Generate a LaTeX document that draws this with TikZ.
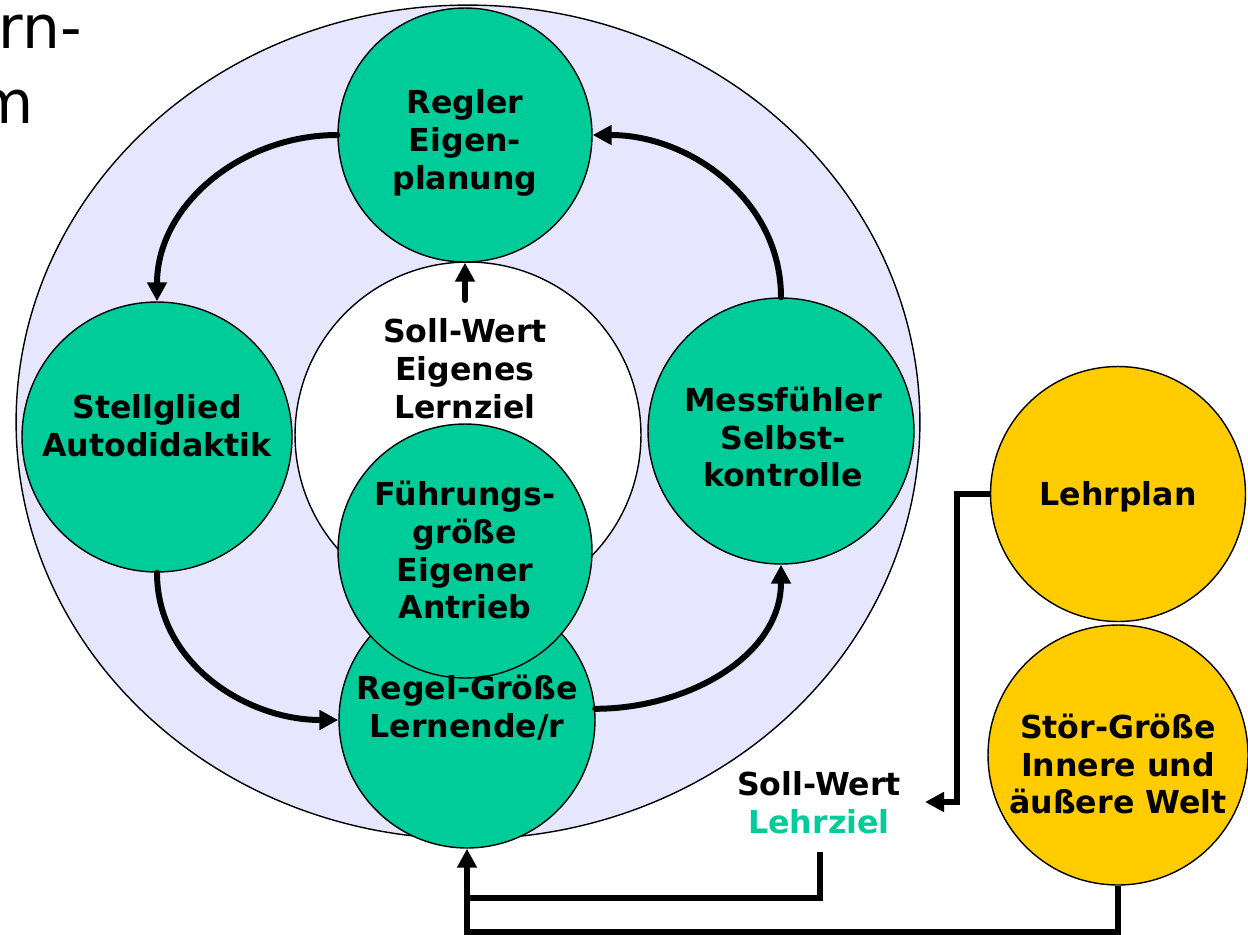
\documentclass[tikz,border=0pt]{standalone}
\usepackage{fontspec}
\setmainfont{DejaVu Sans}
\usetikzlibrary{arrows.meta}
\definecolor{regelgruen}{HTML}{00CC99}
\definecolor{plangelb}{HTML}{FFCC00}
\definecolor{lila}{HTML}{E6E6FF}

\begin{document}
\begin{tikzpicture}[x=0.02cm, y=-0.02cm, line cap=round, line join=round,
  >={Triangle[length=0.38cm,width=0.38cm]},
  kreis/.style={circle, draw, line width=0.8pt, fill=regelgruen, inner sep=0pt},
  gelb/.style={kreis, fill=plangelb},
  schrift/.style={align=center, font=\bfseries\fontsize{18}{21.6}\selectfont, inner sep=0pt},
  pfeil/.style={line width=3.4pt},
  knick/.style={line width=3.4pt, line cap=butt, line join=miter}]
\useasboundingbox (0,0) rectangle (1248,934);

% Ueberschrift, links abgeschnitten
\node[anchor=base east, font=\fontsize{34}{40}\selectfont, inner sep=0pt] (titelA) at (82,48) {rn-};
\node[anchor=base east, font=\fontsize{34}{40}\selectfont, inner sep=0pt] (titelB) at (34,123) {m};

% Regelkreis
\draw[line width=0.8pt, fill=lila] (468,422) ellipse [x radius=9.04cm, y radius=8.34cm];

\node[kreis, fill=white, minimum size=6.92cm] (soll) at (468,435) {};
\node[kreis, minimum size=5.12cm] (regel) at (467,720) {};
\node[kreis, minimum size=5.08cm] (fuehr) at (465,551) {};
\node[kreis, minimum size=5.08cm] (regler) at (465,135) {};
\node[kreis, minimum size=5.4cm] (stell) at (157,437) {};
\node[kreis, minimum size=5.32cm] (mess) at (781,431) {};

\node[schrift] (reglerT) at (465,143) {Regler\\Eigen-\\planung};
\node[schrift] (stellT) at (157,426) {Stellglied\\Autodidaktik};
\node[schrift] (sollT) at (465,369) {Soll-Wert\\Eigenes\\Lernziel};
\node[schrift] (messT) at (783,437) {Messfühler\\Selbst-\\kontrolle};
\node[schrift] (fuehrT) at (465,550) {Führungs-\\größe\\Eigener\\Antrieb};
\node[schrift] (regelT) at (467,708) {Regel-Größe\\Lernende/r};

\draw[pfeil, ->] (regler.west) to[out=180, in=90] (stell.north);
\draw[pfeil, ->] (stell.south) to[out=-90, in=180] (regel.west);
\draw[pfeil, ->] (regel.5) to[out=0, in=-90] (mess.south);
\draw[pfeil, ->] (mess.north) to[out=90, in=0] (regler.east);
\coordinate (sollOben) at (465,300);
\draw[pfeil, ->] (sollOben) -- (regler.south);

% Umwelt
\node[gelb, minimum size=5.1cm] (lehr) at (1118,494) {};
\node[gelb, minimum size=5.2cm] (stoer) at (1118,755) {};
\node[schrift] (lehrT) at (1118,497) {Lehrplan};
\node[schrift] (stoerT) at (1118,764) {Stör-Größe\\Innere und\\äußere Welt};
\node[schrift] (sollL) at (819,803) {Soll-Wert\\\textcolor{regelgruen}{Lehrziel}};

\coordinate (spitze) at (925,802);
\coordinate (lehrzielFuss) at (820,852);
\coordinate (mitte) at (467,898);
\coordinate (unten) at (467,932);
\draw[knick, ->] (lehr.west) -| (957,802) -- (spitze);
\draw[knick] (lehrzielFuss) |- (mitte);
\draw[knick, ->] (stoer.south) |- (unten) -- (regel.south);
\end{tikzpicture}
\end{document}
